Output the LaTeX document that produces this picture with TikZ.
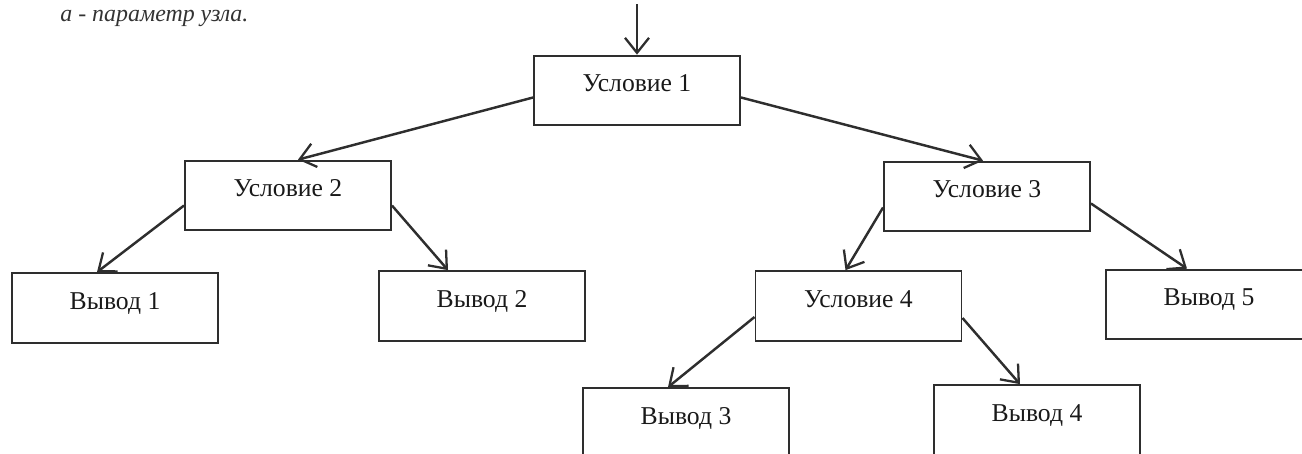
\documentclass[tikz,border=0pt]{standalone}
\usepackage{fontspec}
\setmainfont{Liberation Serif}
\usepackage{xcolor}
\usetikzlibrary{arrows.meta,positioning}
\definecolor{inkgray}{HTML}{2E2E2E}
\tikzset{
  treebox/.style={draw=inkgray, line width=1.1pt, minimum width=4.12cm, inner xsep=0pt, inner ysep=0pt,
    text height=20.6pt, text depth=19.1pt, align=center, font=\fontsize{14.6}{17}\selectfont, text=black!90},
  treearrow/.style={-{Straight Barb[length=3mm,width=4.8mm,line width=1.3pt]}, draw=inkgray, line width=1.4pt},
  notetext/.style={font=\fontsize{13.6}{16}\selectfont\itshape, text=black!80, inner sep=0pt}
}

\begin{document}
\begin{tikzpicture}
\clip (0,0) rectangle (26.04,-9.06);
\node[notetext, anchor=base west] (note) at (1.2,-0.42) {а - параметр узла.};
\node[treebox] (cond1) at (12.74,-1.81) {Условие 1};
\node[treebox] (cond2) at (5.76,-3.91) {Условие 2};
\node[treebox] (cond3) at (19.74,-3.93) {Условие 3};
\node[treebox] (out1) at (2.30,-6.16) {Вывод 1};
\node[treebox] (out2) at (9.64,-6.12) {Вывод 2};
\node[treebox] (cond4) at (17.17,-6.12) {Условие 4};
\node[treebox] (out5) at (24.18,-6.09) {Вывод 5};
\node[treebox] (out3) at (13.72,-8.46) {Вывод 3};
\node[treebox] (out4) at (20.74,-8.40) {Вывод 4};
\coordinate (entry) at (12.74,-0.08);
% arrows
\draw[treearrow] (entry) -- (cond1.north);
\draw[treearrow] ([yshift=-1.4mm]cond1.west) -- ([xshift=2mm]cond2.north);
\draw[treearrow] ([yshift=-1.4mm]cond1.east) -- ([xshift=-0.8mm]cond3.north);
\draw[treearrow] ([yshift=-2mm]cond2.west) -- ([xshift=-3.6mm]out1.north);
\draw[treearrow] ([yshift=-2mm]cond2.east) -- ([xshift=-6.8mm]out2.north);
\draw[treearrow] ([yshift=-2.2mm]cond3.west) -- ([xshift=-2.6mm]cond4.north);
\draw[treearrow] ([yshift=-1.4mm]cond3.east) -- ([xshift=-4.4mm]out5.north);
\draw[treearrow] ([yshift=-2.2mm]cond4.west) -- ([xshift=-3.6mm]out3.north);
\draw[treearrow] ([yshift=-2.4mm]cond4.east) -- ([xshift=-3.4mm]out4.north);
\end{tikzpicture}
\end{document}
